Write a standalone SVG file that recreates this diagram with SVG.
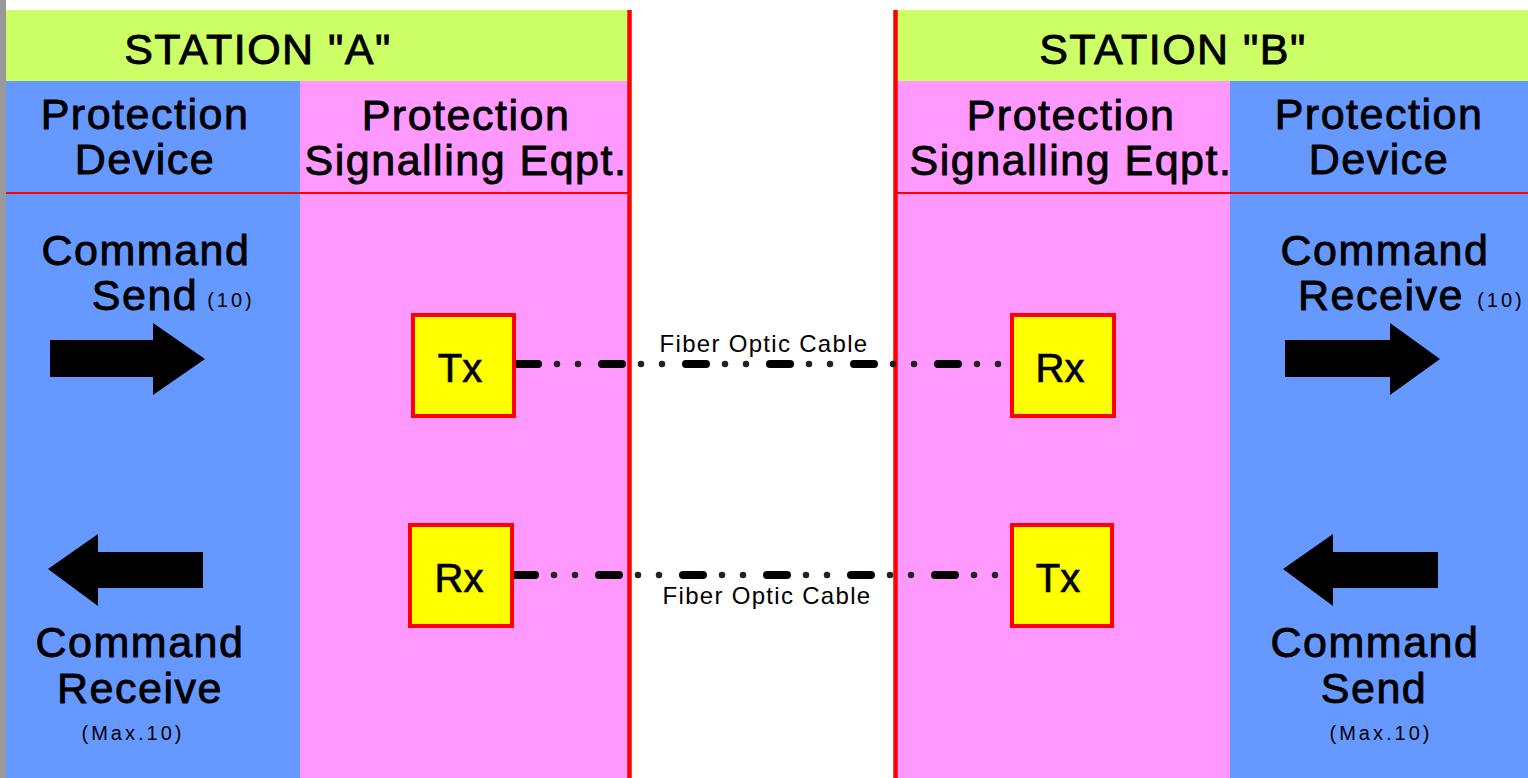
<svg xmlns="http://www.w3.org/2000/svg" width="1528" height="778" viewBox="0 0 1528 778">
<style>
.t{font-family:"Liberation Sans",Arial,sans-serif;fill:#000;text-anchor:middle}
.big{font-size:43px;letter-spacing:1.5px;stroke:#000;stroke-width:0.9px}
.box{font-size:40px;stroke:#000;stroke-width:0.7px}
.sm{font-size:20px;letter-spacing:3px}
.fib{font-size:24px;letter-spacing:1.3px}
.green{fill:#CCFF66}
.blue{fill:#6699FF}
.pink{fill:#FF99FF}
.rx{fill:#FFFF00;stroke:#FF0000;stroke-width:4}
.redv{stroke:#FF0000;stroke-width:4.5}
.redh{stroke:#FF0000;stroke-width:2}
.dash{fill:none;stroke:#000;stroke-width:8;stroke-linecap:round;stroke-dasharray:20 64}
.dot{fill:none;stroke:#222;stroke-width:6.5;stroke-linecap:round;stroke-dasharray:0 21 0 63}
.arr{fill:#000}
</style>
<rect x="0" y="0" width="1528" height="778" fill="#FFFFFF"/>
<rect x="0" y="0" width="6" height="778" fill="#999999"/>

<g id="stationA">
  <rect class="green" x="6" y="10" width="622" height="71"/>
  <rect class="blue" x="6" y="81" width="294" height="697"/>
  <rect class="pink" x="300" y="81" width="328" height="697"/>
  <line class="redh" x1="6" y1="193" x2="628" y2="193"/>
  <text class="t big" x="258" y="64">STATION "A"</text>
  <text class="t big" x="145" y="129">Protection</text>
  <text class="t big" x="145" y="174">Device</text>
  <text class="t big" x="466" y="130">Protection</text>
  <text class="t big" x="466" y="175">Signalling Eqpt.</text>
</g>

<g id="stationB">
  <rect class="green" x="897" y="10" width="631" height="71"/>
  <rect class="pink" x="897" y="81" width="333" height="697"/>
  <rect class="blue" x="1230" y="81" width="298" height="697"/>
  <line class="redh" x1="897" y1="193" x2="1528" y2="193"/>
  <text class="t big" x="1173" y="64">STATION "B"</text>
  <text class="t big" x="1071" y="130">Protection</text>
  <text class="t big" x="1071" y="175">Signalling Eqpt.</text>
  <text class="t big" x="1379" y="129">Protection</text>
  <text class="t big" x="1379" y="174">Device</text>
</g>

<line class="redv" x1="629.5" y1="10" x2="629.5" y2="778"/>
<line class="redv" x1="895.5" y1="10" x2="895.5" y2="778"/>

<g id="cmdSendA">
  <text class="t big" x="146" y="265">Command</text>
  <text class="t big" x="145" y="310">Send</text>
  <text class="t sm" x="231" y="307">(10)</text>
  <polygon class="arr" points="50,340 153,340 153,323 205,359 153,395 153,377 50,377"/>
</g>

<g id="cmdRecvA">
  <polygon class="arr" points="203,552 98,552 98,534 48,569 98,606 98,588 203,588"/>
  <text class="t big" x="140" y="657">Command</text>
  <text class="t big" x="140" y="703">Receive</text>
  <text class="t sm" x="133" y="740">(Max.10)</text>
</g>

<g id="cmdRecvB">
  <text class="t big" x="1385" y="265">Command</text>
  <text class="t big" x="1381" y="310">Receive</text>
  <text class="t sm" x="1501" y="307">(10)</text>
  <polygon class="arr" points="1285,340 1390,340 1390,323 1440,359 1390,395 1390,377 1285,377"/>
</g>

<g id="cmdSendB">
  <polygon class="arr" points="1438,552 1333,552 1333,534 1283,569 1333,606 1333,588 1438,588"/>
  <text class="t big" x="1375" y="657">Command</text>
  <text class="t big" x="1374" y="703">Send</text>
  <text class="t sm" x="1381" y="740">(Max.10)</text>
</g>

<g id="connectors">
  <path class="dash" d="M518,364 H1005"/>
  <path class="dot" d="M557,364 H1005"/>
  <path class="dash" d="M515,575 H1005"/>
  <path class="dot" d="M554,575 H1005"/>
  <text class="t fib" x="764" y="352">Fiber Optic Cable</text>
  <text class="t fib" x="767" y="604">Fiber Optic Cable</text>
</g>

<g id="txA">
  <rect class="rx" x="413" y="315" width="101" height="101"/>
  <text class="t box" x="460" y="382">Tx</text>
</g>
<g id="rxA">
  <rect class="rx" x="410" y="525" width="102" height="101"/>
  <text class="t box" x="459" y="592">Rx</text>
</g>
<g id="rxB">
  <rect class="rx" x="1012" y="315" width="102" height="101"/>
  <text class="t box" x="1060" y="382">Rx</text>
</g>
<g id="txB">
  <rect class="rx" x="1012" y="525" width="100" height="101"/>
  <text class="t box" x="1058" y="592">Tx</text>
</g>
</svg>
